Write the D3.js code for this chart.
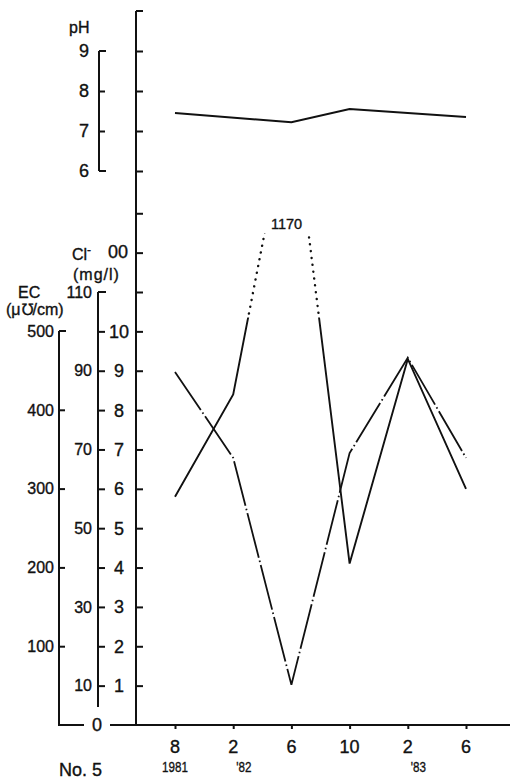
<!DOCTYPE html>
<html>
<head>
<meta charset="utf-8">
<script src="https://cdn.jsdelivr.net/npm/d3@7"></script>
<style>
  html, body { margin: 0; padding: 0; background: #fff; }
  svg { display: block; }
  text { font-family: "Liberation Sans", Arial, sans-serif; fill: #111; stroke: #111; stroke-width: 0.35px; }
</style>
</head>
<body>
<svg id="chart" width="514" height="779"></svg>
<script>
// Sampling rounds along the time axis
const months = ["8", "2", "6", "10", "2", "6"];
const years  = ["1981", "'82", "", "", "'83", ""];

// Measured values per sampling round (null = not measured)
const pH       = [7.45, null, 7.22, 7.55, null, 7.35];
const chloride = [58, 84, 1170, 41, 93, 60];      // Cl- (mg/l)
const ec       = [448, 339, 51, 345, 466, 339];   // EC (μ℧/cm)

// Axis tick labels
const phTicks      = [6, 7, 8, 9];
const clTicksLeft  = [10, 30, 50, 70, 90, 110];
const clTicksRight = [1, 2, 3, 4, 5, 6, 7, 8, 9, 10];
const ecTicks      = [100, 200, 300, 400, 500];

// ---- layout ----
const baseY = 725;
const mainX = 136, clX = 98, ecX = 59, phX = 99;
const ink = "#111";

// Off-scale chloride handling: solid up to clBreak, dotted to clTop, aimed at clCap
const clBreak = 103.5, clTop = 125, clCap = 160;

const svg = d3.select("#chart");

const x   = d3.scalePoint().domain(d3.range(months.length)).range([175, 466]);
const yCl = d3.scaleLinear().domain([0, 110]).range([baseY, 292]);
const yEC = d3.scaleLinear().domain([0, 500]).range([baseY, 331]);
const yPH = d3.scaleLinear().domain([6, 9]).range([171, 51]);

function vline(xp, y1, y2, w = 2) {
  svg.append("line").attr("x1", xp).attr("x2", xp).attr("y1", y1).attr("y2", y2)
    .attr("stroke", ink).attr("stroke-width", w);
}
function hline(x1, x2, yp, w = 2) {
  svg.append("line").attr("x1", x1).attr("x2", x2).attr("y1", yp).attr("y2", yp)
    .attr("stroke", ink).attr("stroke-width", w);
}
function ticksRight(scale, values, xp, size) {
  svg.append("g").attr("transform", `translate(${xp},0)`)
    .style("color", ink)
    .call(d3.axisRight(scale).tickValues(values).tickSize(size).tickFormat(""))
    .call(g => g.select(".domain").remove())
    .call(g => g.selectAll(".tick line").attr("stroke-width", 2));
}

// ---- main frame axis (left) ----
vline(mainX, yPH(10), baseY);
hline(mainX, mainX + 7, yPH(10));
ticksRight(yCl, d3.range(10, 131, 10), mainX, 7);
ticksRight(yPH, phTicks, mainX, 7);

// ---- bottom time axis ----
hline(mainX, 510, baseY);
svg.append("g").attr("transform", `translate(0,${baseY})`)
  .style("color", ink)
  .call(d3.axisBottom(x).tickSize(4).tickFormat(""))
  .call(g => g.select(".domain").remove())
  .call(g => g.selectAll(".tick line").attr("stroke-width", 2));

svg.selectAll("text.month").data(months).join("text")
  .attr("class", "month")
  .attr("x", (d, i) => x(i)).attr("y", 753)
  .attr("text-anchor", "middle").attr("font-size", 18)
  .text(d => d);

years.forEach((yr, i) => {
  if (!yr) return;
  const lead = yr.startsWith("'");
  svg.append("text")
    .attr("transform", `translate(${lead ? x(i) + 3 : x(i)},772) scale(0.75,1)`)
    .attr("text-anchor", lead ? "start" : "middle")
    .attr("font-size", 15.5)
    .text(yr);
});

svg.append("text").attr("x", 59).attr("y", 776).attr("font-size", 18).text("No. 5");

// ---- pH scale ----
vline(phX, yPH(9), yPH(6));
hline(phX, phX + 7, yPH(9));
hline(phX, phX + 7, yPH(6));
ticksRight(yPH, [7, 8], phX, 6);
svg.selectAll("text.ph").data(phTicks).join("text")
  .attr("class", "ph")
  .attr("x", 89).attr("y", d => yPH(d)).attr("dy", "0.36em")
  .attr("text-anchor", "end").attr("font-size", 18)
  .text(d => d);
svg.append("text").attr("x", 69).attr("y", 33).attr("font-size", 16).text("pH");

// ---- Cl- scale ----
vline(clX, yCl(110), 707);
hline(clX, clX + 8, yCl(110));
ticksRight(yCl, d3.range(10, 101, 10), clX, 7);
svg.selectAll("text.clL").data(clTicksLeft).join("text")
  .attr("class", "clL")
  .attr("x", 92).attr("y", d => yCl(d)).attr("dy", "0.36em")
  .attr("text-anchor", "end").attr("font-size", 16)
  .text(d => d);
svg.selectAll("text.clR").data(clTicksRight).join("text")
  .attr("class", "clR")
  .attr("x", 119).attr("y", d => yCl(d * 10)).attr("dy", "0.36em")
  .attr("text-anchor", "middle").attr("font-size", 18)
  .text(d => d);
const clHead = svg.append("text").attr("x", 72).attr("y", 260).attr("font-size", 16);
clHead.append("tspan").text("Cl");
clHead.append("tspan").attr("dy", -6).attr("font-size", 12).text("-");
svg.append("text").attr("x", 108).attr("y", 258).attr("font-size", 18).text("00");
svg.append("text").attr("x", 73).attr("y", 280).attr("font-size", 16)
  .attr("letter-spacing", 1).text("(mg/l)");

// ---- EC scale ----
vline(ecX, yEC(500), baseY);
hline(ecX - 1, 84, baseY);
hline(ecX, ecX + 7, yEC(500));
ticksRight(yEC, [100, 200, 300, 400], ecX, 6);
svg.selectAll("text.ec").data(ecTicks).join("text")
  .attr("class", "ec")
  .attr("x", 54).attr("y", d => yEC(d)).attr("dy", "0.36em")
  .attr("text-anchor", "end").attr("font-size", 16)
  .text(d => d);
svg.append("text").attr("x", 18).attr("y", 298).attr("font-size", 16).text("EC");
svg.append("text").attr("x", 6).attr("y", 315).attr("font-size", 16).text("(\u03BC\u2127/cm)");

// shared zero on the baseline
svg.append("text").attr("x", 97).attr("y", baseY).attr("dy", "0.36em")
  .attr("text-anchor", "middle").attr("font-size", 18).text("0");
hline(110, mainX, baseY);

// ---- data lines ----
const defs = svg.append("defs");
defs.append("clipPath").attr("id", "clSolid").append("rect")
  .attr("x", 0).attr("width", 514).attr("y", yCl(clBreak)).attr("height", 779 - yCl(clBreak));
defs.append("clipPath").attr("id", "clDotted").append("rect")
  .attr("x", 0).attr("width", 514).attr("y", yCl(clTop)).attr("height", yCl(clBreak) - yCl(clTop));

// pH
const phPts = pH.map((v, i) => [i, v]).filter(d => d[1] !== null);
svg.append("path")
  .attr("d", d3.line().x(d => x(d[0])).y(d => yPH(d[1]))(phPts))
  .attr("fill", "none").attr("stroke", ink).attr("stroke-width", 2);

// EC, dash-dot
svg.append("path")
  .attr("d", d3.line().x((d, i) => x(i)).y(d => yEC(d))(ec))
  .attr("fill", "none").attr("stroke", ink).attr("stroke-width", 1.8)
  .attr("stroke-dasharray", "46 3 1.6 3");

// Cl-, solid with dotted off-scale peak
const clPath = d3.line().x((d, i) => x(i)).y(d => yCl(Math.min(d, clCap)))(chloride);
svg.append("path").attr("d", clPath).attr("clip-path", "url(#clSolid)")
  .attr("fill", "none").attr("stroke", ink).attr("stroke-width", 1.9);
svg.append("path").attr("d", clPath).attr("clip-path", "url(#clDotted)")
  .attr("fill", "none").attr("stroke", ink).attr("stroke-width", 2.4)
  .attr("stroke-linecap", "round").attr("stroke-dasharray", "0.1 6.8");

// value label for the off-scale peak, centred in the gap at the top of the dotted arch
const pk = d3.maxIndex(chloride);
const yT = yCl(clTop), yP = yCl(clCap);
function xAt(i0) {
  const x0 = x(i0), y0 = yCl(chloride[i0]);
  return x0 + (x(pk) - x0) * (yT - y0) / (yP - y0);
}
const labelX = (xAt(pk - 1) + xAt(pk + 1)) / 2;
svg.append("text").attr("x", labelX).attr("y", yT - 4)
  .attr("text-anchor", "middle").attr("font-size", 14.5)
  .text(chloride[pk]);
</script>
</body>
</html>
